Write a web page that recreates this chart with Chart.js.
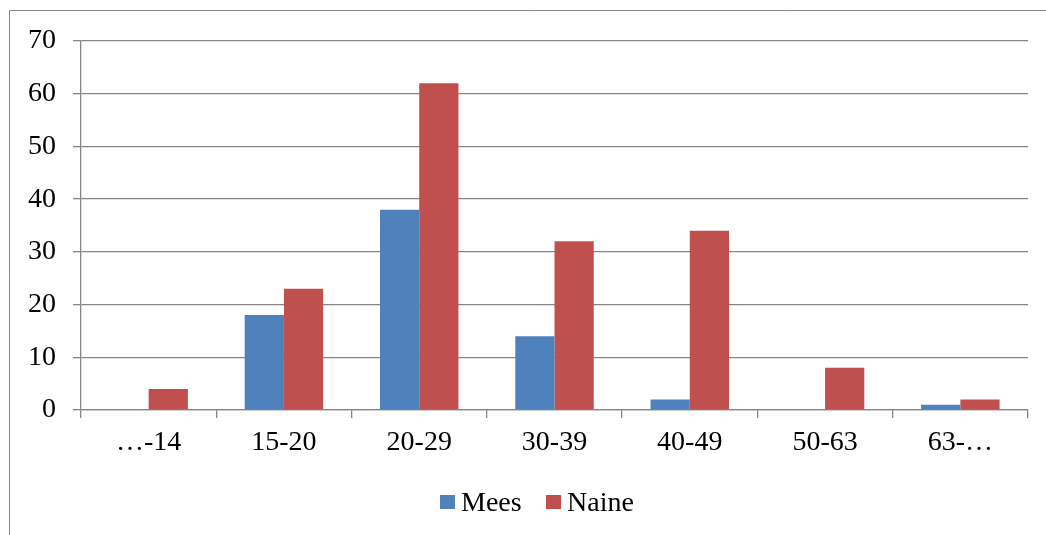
<!DOCTYPE html>
<html>
<head>
<meta charset="utf-8">
<script src="https://cdn.jsdelivr.net/npm/chart.js@4/dist/chart.umd.min.js"></script>
<style>
  html, body { margin: 0; padding: 0; background: #ffffff; overflow: hidden; }
  #wrap { position: absolute; left: 0; top: 0; width: 1046px; height: 535px; }
  #legend {
    position: absolute; left: 440px; top: 484px; height: 36px;
    font-family: 'Liberation Serif', 'Times New Roman', serif; font-size: 28px;
    color: #000; white-space: nowrap; line-height: 36px;
  }
  #legend .item { position: absolute; top: 0; }
  #legend .box { position: absolute; top: 11px; left: 0; width: 15px; height: 14px; }
  #legend .txt { position: absolute; top: 0; left: 21px; }
</style>
</head>
<body>
<div id="wrap">
  <canvas id="c" width="1046" height="535"></canvas>
  <div id="legend"></div>
</div>
<script>
// Age groups and counts per group
const categories = ['…-14', '15-20', '20-29', '30-39', '40-49', '50-63', '63-…'];
const mees  = [0, 18, 38, 14, 2, 0, 1];
const naine = [4, 23, 62, 32, 34, 8, 2];
const yTicks = [0, 10, 20, 30, 40, 50, 60, 70];
const seriesNames = ['Mees', 'Naine'];
const seriesColors = ['#4f81bd', '#c0504d'];

const GRID = '#868686';
const FONT = "'Liberation Serif', 'Times New Roman', serif";

// Frame around the whole chart (open to the right and bottom edges)
const framePlugin = {
  id: 'frame',
  beforeDraw(chart) {
    const ctx = chart.ctx;
    ctx.save();
    ctx.fillStyle = '#ffffff';
    ctx.fillRect(0, 0, chart.width, chart.height);
    ctx.strokeStyle = GRID;
    ctx.lineWidth = 1;
    ctx.beginPath();
    ctx.moveTo(9.5, chart.height + 5);
    ctx.lineTo(9.5, 10.5);
    ctx.lineTo(chart.width + 5, 10.5);
    ctx.stroke();
    ctx.restore();
  }
};

const chart = new Chart(document.getElementById('c'), {
  type: 'bar',
  data: {
    labels: categories,
    datasets: [
      { label: seriesNames[0], data: mees, backgroundColor: seriesColors[0], borderWidth: 0 },
      { label: seriesNames[1], data: naine, backgroundColor: seriesColors[1], borderWidth: 0 }
    ]
  },
  options: {
    responsive: false,
    animation: false,
    devicePixelRatio: 1,
    layout: { padding: { left: 0, right: 18, top: 41, bottom: 0 } },
    datasets: { bar: { barPercentage: 1.0, categoryPercentage: 0.58 } },
    plugins: {
      tooltip: { enabled: false },
      legend: { display: false }
    },
    scales: {
      x: {
        afterFit(scale) { scale.height = 125; },
        grid: {
          offset: true,
          drawOnChartArea: false,
          drawTicks: true,
          tickLength: 8,
          color: GRID,
          lineWidth: 1.3
        },
        border: { display: true, color: GRID, width: 1.3 },
        ticks: {
          color: '#000000',
          font: { family: FONT, size: 28 },
          padding: 8,
          maxRotation: 0
        }
      },
      y: {
        min: 0,
        max: 70,
        afterBuildTicks(scale) { scale.ticks = yTicks.map(v => ({ value: v })); },
        afterFit(scale) { scale.width = 81; },
        grid: {
          color: GRID,
          lineWidth: 1.3,
          tickLength: 8
        },
        border: { display: true, color: GRID, width: 1.3 },
        ticks: {
          color: '#000000',
          font: { family: FONT, size: 28 },
          padding: 17
        }
      }
    }
  },
  plugins: [framePlugin]
});

// Legend built from the chart's own datasets
const legendEl = document.getElementById('legend');
const itemOffsets = [0, 106];
chart.data.datasets.forEach((ds, i) => {
  const item = document.createElement('div');
  item.className = 'item';
  item.style.left = itemOffsets[i] + 'px';
  const box = document.createElement('span');
  box.className = 'box';
  box.style.background = ds.backgroundColor;
  const txt = document.createElement('span');
  txt.className = 'txt';
  txt.textContent = ds.label;
  item.appendChild(box);
  item.appendChild(txt);
  legendEl.appendChild(item);
});
</script>
</body>
</html>
